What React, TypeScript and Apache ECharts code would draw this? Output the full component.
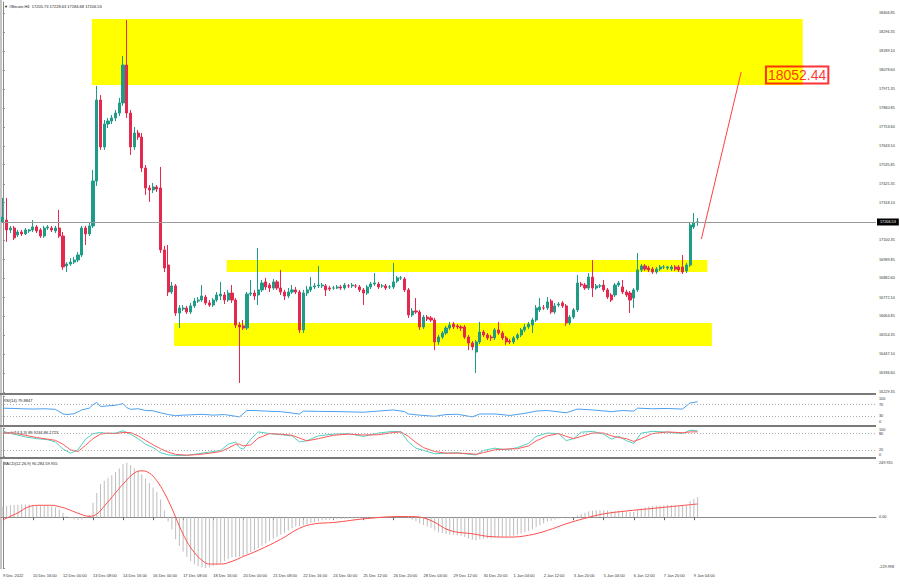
import React, { useEffect, useRef } from "react";
import * as echarts from "echarts";

// ---------- DATA ----------
const SLOT_COUNT = 233; // bar slots across the chart (incl. empty right margin)

// [open, close, low, high]
const candles: number[][] = [
  [17206, 17235, 17201, 17345], [17218, 17161, 17092, 17345], [17161, 17172, 17143, 17184], [17172, 17115, 17103, 17184],
  [17132, 17149, 17120, 17161], [17149, 17138, 17126, 17161], [17138, 17161, 17132, 17172], [17155, 17161, 17143, 17166],
  [17161, 17178, 17149, 17218], [17178, 17155, 17143, 17189], [17161, 17126, 17115, 17172], [17126, 17172, 17115, 17184],
  [17172, 17178, 17161, 17189], [17172, 17161, 17149, 17184], [17155, 17172, 17143, 17184], [17172, 17126, 17115, 17276],
  [17126, 16948, 16931, 17149], [16954, 16965, 16919, 16976], [16965, 16976, 16954, 16999], [16976, 16988, 16965, 17005],
  [16988, 17017, 16976, 17034], [17017, 17172, 17005, 17184], [17172, 17138, 17074, 17184], [17138, 17184, 17126, 17206],
  [17184, 17442, 17172, 17506], [17442, 17908, 17414, 17989], [17908, 17638, 17621, 17937], [17638, 17770, 17621, 17793],
  [17770, 17787, 17747, 17805], [17787, 17805, 17770, 17822], [17805, 17833, 17787, 17851], [17833, 17891, 17816, 17920],
  [17891, 18109, 17874, 18161], [18109, 17833, 17805, 18368], [17833, 17638, 17592, 17851], [17638, 17718, 17621, 17753],
  [17718, 17695, 17678, 17736], [17695, 17517, 17494, 17718], [17517, 17402, 17362, 17534], [17402, 17391, 17322, 17419],
  [17391, 17408, 17373, 17431], [17408, 17396, 17379, 17419], [17402, 17046, 17028, 17523], [17046, 16942, 16919, 17069],
  [16959, 16804, 16781, 17074], [16804, 16839, 16792, 16862], [16839, 16683, 16666, 16850], [16683, 16712, 16597, 16729],
  [16706, 16712, 16695, 16729], [16712, 16689, 16678, 16724], [16689, 16724, 16678, 16741], [16724, 16752, 16712, 16769],
  [16752, 16758, 16741, 16775], [16758, 16781, 16747, 16844], [16775, 16741, 16729, 16787], [16741, 16729, 16718, 16758],
  [16729, 16758, 16718, 16769], [16758, 16787, 16747, 16804], [16781, 16792, 16758, 16862], [16787, 16758, 16735, 16804],
  [16758, 16798, 16747, 16816], [16798, 16758, 16741, 16844], [16758, 16614, 16597, 16769], [16614, 16603, 16281, 16632],
  [16609, 16597, 16586, 16643], [16597, 16792, 16586, 16804], [16792, 16798, 16781, 16873], [16798, 16781, 16758, 16816],
  [16787, 16816, 16729, 17057], [16816, 16856, 16804, 16873], [16862, 16833, 16816, 16885], [16844, 16827, 16804, 16856],
  [16827, 16862, 16816, 16879], [16862, 16827, 16816, 16873], [16827, 16804, 16787, 16931], [16804, 16781, 16758, 16816],
  [16781, 16804, 16769, 16827], [16804, 16816, 16792, 16844], [16816, 16804, 16792, 16833], [16804, 16586, 16568, 16816],
  [16586, 16798, 16568, 16816], [16798, 16816, 16781, 16839], [16816, 16833, 16804, 16890], [16833, 16839, 16821, 16856],
  [16839, 16844, 16827, 16954], [16839, 16844, 16827, 16856], [16839, 16816, 16781, 16850], [16827, 16821, 16810, 16839],
  [16827, 16827, 16816, 16839], [16827, 16833, 16821, 16844], [16833, 16827, 16816, 16844], [16827, 16844, 16816, 16856],
  [16839, 16839, 16827, 16850], [16839, 16844, 16827, 16856], [16839, 16839, 16827, 16850], [16833, 16816, 16804, 16844],
  [16816, 16798, 16729, 16827], [16798, 16833, 16787, 16844], [16833, 16850, 16821, 16862], [16850, 16856, 16839, 16913],
  [16850, 16833, 16821, 16862], [16839, 16839, 16827, 16850], [16839, 16827, 16816, 16850], [16833, 16833, 16821, 16844],
  [16833, 16862, 16821, 16971], [16867, 16885, 16856, 16896], [16885, 16885, 16873, 16896], [16879, 16816, 16804, 16890],
  [16816, 16672, 16655, 16827], [16672, 16695, 16660, 16712], [16695, 16689, 16678, 16769], [16689, 16603, 16586, 16701],
  [16603, 16660, 16591, 16672], [16660, 16649, 16637, 16672], [16655, 16643, 16632, 16666], [16643, 16517, 16470, 16655],
  [16517, 16545, 16500, 16557], [16545, 16568, 16534, 16580], [16568, 16597, 16557, 16609], [16597, 16614, 16586, 16632],
  [16620, 16603, 16591, 16632], [16609, 16603, 16591, 16620], [16603, 16597, 16580, 16614], [16603, 16545, 16534, 16614],
  [16545, 16511, 16470, 16557], [16511, 16488, 16470, 16522], [16459, 16517, 16338, 16528], [16517, 16574, 16505, 16632],
  [16574, 16557, 16545, 16586], [16557, 16540, 16528, 16568], [16545, 16540, 16522, 16557], [16540, 16586, 16528, 16597],
  [16586, 16568, 16557, 16632], [16568, 16540, 16528, 16580], [16540, 16517, 16500, 16551], [16522, 16517, 16505, 16534],
  [16517, 16540, 16505, 16551], [16540, 16557, 16528, 16568], [16557, 16586, 16545, 16597], [16586, 16603, 16574, 16620],
  [16603, 16620, 16591, 16632], [16614, 16643, 16568, 16655], [16643, 16712, 16632, 16729], [16701, 16718, 16689, 16769],
  [16712, 16712, 16701, 16729], [16712, 16747, 16701, 16775], [16752, 16689, 16678, 16764], [16689, 16724, 16678, 16741],
  [16729, 16735, 16718, 16747], [16741, 16724, 16712, 16752], [16724, 16626, 16609, 16735], [16626, 16660, 16614, 16672],
  [16660, 16701, 16649, 16712], [16701, 16856, 16689, 16902], [16850, 16844, 16833, 16862], [16844, 16827, 16816, 16856],
  [16827, 16890, 16816, 16913], [16890, 16827, 16775, 16988], [16827, 16839, 16816, 16850], [16839, 16839, 16827, 16850],
  [16844, 16816, 16804, 16873], [16816, 16775, 16764, 16827], [16787, 16758, 16747, 16798], [16787, 16844, 16775, 16856],
  [16844, 16856, 16833, 16867], [16833, 16804, 16792, 16873], [16804, 16787, 16775, 16816], [16798, 16758, 16683, 16810],
  [16769, 16816, 16712, 16827], [16816, 16931, 16804, 17028], [16931, 16954, 16919, 16965], [16954, 16936, 16925, 16965],
  [16942, 16931, 16919, 16954], [16936, 16919, 16908, 16948], [16919, 16936, 16908, 16948], [16936, 16948, 16925, 16959],
  [16948, 16948, 16936, 16959], [16942, 16948, 16931, 16954], [16936, 16948, 16925, 16959], [16948, 16936, 16925, 16959],
  [16948, 16931, 16919, 16959], [16948, 16919, 16908, 17017], [16925, 16959, 16913, 16971], [16959, 17189, 16948, 17201],
  [17178, 17201, 17166, 17258], [17205.73, 17206.53, 17184.68, 17228.63],
];

const currentPrice = 17206.53;
const targetPrice = 18052.44;

const priceTicks = [
  18406.85, 18296.35, 18189.1, 18078.6, 17971.35, 17860.85, 17753.6, 17643.1, 17535.85, 17425.35,
  17318.1, 17100.35, 16989.85, 16882.6, 16772.1, 16664.85, 16554.35, 16447.1, 16336.6, 16229.35,
];
const rsiTicks = [0, 30, 70, 100];
const stochTicks = [0, 20, 80, 100];
const macdTicks = [-229.998, 0, 249.915];

const timeTickBars = [0, 8, 16, 24, 32, 40, 48, 56, 64, 72, 80, 88, 96, 104, 112, 120, 128, 136, 144, 152, 160, 168, 176, 184];
const timeTickLabels = [
  "9 Dec 2022", "10 Dec 16:00", "12 Dec 00:00", "13 Dec 08:00", "14 Dec 16:00", "16 Dec 00:00",
  "17 Dec 08:00", "18 Dec 16:00", "20 Dec 00:00", "21 Dec 08:00", "22 Dec 16:00", "24 Dec 00:00",
  "25 Dec 12:00", "26 Dec 20:00", "28 Dec 04:00", "29 Dec 12:00", "30 Dec 20:00", "1 Jan 04:00",
  "2 Jan 12:00", "3 Jan 20:00", "5 Jan 04:00", "6 Jan 12:00", "7 Jan 20:00", "9 Jan 04:00",
];

// zones: [fromBar, toBar, topPrice, bottomPrice]
const zones: number[][] = [
  [23.7, 213.0, 18374, 17994],
  [59.6, 187.6, 16988, 16919],
  [45.6, 188.8, 16626, 16494],
];
// trend line [bar, price]
const trendLine: number[][] = [[186.0, 17109], [196.6, 18069]];
const targetLabelBar = 211.5;

// RSI(14) [bar, value]
const rsi: number[][] = [
  [0, 58], [3, 57], [5, 56], [8, 55], [11, 56], [14, 54], [16, 38], [17, 36], [19, 39], [21, 52], [23, 58],
  [24, 70], [25, 78], [26, 64], [28, 66], [30, 68], [32, 74], [33, 60], [34, 54], [36, 56], [38, 50], [40, 49],
  [42, 42], [44, 36], [46, 32], [48, 34], [50, 35], [53, 37], [56, 34], [59, 36], [62, 30], [63, 28], [65, 50],
  [67, 50], [70, 48], [74, 46], [79, 38], [80, 48], [84, 47], [90, 46], [96, 44], [100, 48], [104, 52], [107, 46],
  [108, 38], [111, 34], [115, 30], [118, 36], [121, 37], [125, 28], [127, 38], [131, 38], [135, 33], [139, 40],
  [142, 48], [145, 50], [150, 42], [153, 55], [157, 52], [162, 46], [165, 50], [168, 48], [169, 58], [173, 56],
  [177, 57], [181, 55], [183, 76], [185, 79.88],
];

// Stochastic(14,3,3) main / signal [bar, value]
const stochMain: number[][] = [
  [0, 86], [3, 78], [6, 68], [9, 62], [12, 58], [14, 50], [16, 25], [18, 10], [20, 22], [22, 60], [24, 80], [26, 84],
  [28, 80], [30, 82], [32, 90], [34, 78], [36, 62], [38, 42], [40, 30], [42, 12], [44, 4], [46, 2], [49, 2], [52, 8],
  [55, 14], [58, 20], [60, 42], [62, 50], [63, 30], [64, 24], [66, 60], [68, 86], [71, 80], [74, 76], [77, 72], [79, 50],
  [81, 55], [84, 72], [88, 78], [92, 80], [96, 70], [100, 82], [104, 88], [106, 86], [108, 50], [110, 28], [112, 20],
  [115, 8], [118, 10], [121, 12], [124, 6], [126, 4], [128, 20], [131, 28], [134, 22], [137, 30], [140, 45], [142, 70],
  [145, 82], [148, 80], [150, 55], [152, 62], [154, 85], [157, 88], [160, 78], [162, 60], [164, 70], [166, 55], [168, 45],
  [170, 82], [173, 88], [177, 85], [181, 80], [183, 92], [185, 89.92],
];
const stochSignal: number[][] = [
  [0, 82], [3, 82], [6, 74], [9, 66], [12, 60], [14, 56], [16, 42], [18, 22], [20, 16], [22, 38], [24, 62], [26, 78],
  [28, 82], [30, 80], [32, 84], [34, 84], [36, 72], [38, 56], [40, 40], [42, 26], [44, 14], [46, 6], [49, 3], [52, 5],
  [55, 10], [58, 16], [60, 28], [62, 42], [63, 42], [64, 36], [66, 40], [68, 64], [71, 80], [74, 78], [77, 74], [79, 64],
  [81, 54], [84, 62], [88, 74], [92, 78], [96, 75], [100, 76], [104, 84], [106, 86], [108, 70], [110, 48], [112, 30],
  [115, 16], [118, 10], [121, 10], [124, 9], [126, 6], [128, 12], [131, 22], [134, 25], [137, 26], [140, 36], [142, 54],
  [145, 72], [148, 80], [150, 70], [152, 62], [154, 70], [157, 82], [160, 82], [162, 72], [164, 66], [166, 62], [168, 52],
  [170, 62], [173, 80], [177, 86], [181, 83], [183, 86], [185, 86.17],
];

// MACD(12,26,9) main (histogram, one per bar) and signal [bar, value]
const macdMain: number[] = [
  48, 52, 54, 55, 56, 57, 57, 57, 56, 55, 54, 53, 52, 50, 45, 35, 20, 5, -5, -10,
  -14, -10, 0, 10, 65, 110, 150, 165, 178, 190, 205, 220, 240, 246, 235, 222, 210, 195, 175, 155,
  135, 115, 80, 30, -20, -55, -100, -130, -155, -180, -200, -212, -222, -228, -230, -228, -222, -216, -208, -198,
  -190, -182, -180, -178, -176, -168, -158, -150, -140, -128, -118, -108, -98, -88, -78, -70, -60, -50, -42, -40,
  -38, -32, -26, -22, -18, -15, -13, -11, -10, -9, -8, -7, -6, -5, -4, -4, -5, -4, -3, -2,
  -1, 0, 0, 1, 2, 3, 4, 3, -5, -12, -18, -28, -35, -42, -48, -60, -68, -73, -76, -78,
  -80, -82, -84, -90, -96, -102, -104, -100, -98, -97, -96, -92, -89, -88, -88, -87, -84, -80, -74, -68,
  -62, -55, -45, -36, -28, -20, -16, -11, -7, -4, -6, -5, -2, 8, 15, 20, 27, 29, 31, 32,
  32, 30, 27, 28, 30, 29, 27, 24, 24, 32, 40, 45, 48, 50, 52, 53, 54, 55, 55, 54,
  53, 52, 52, 72, 84, 90.284,
];
const macdSignal: number[][] = [
  [0, -12], [4, 20], [7, 48], [10, 54], [13, 54], [15, 48], [17, 38], [20, 18], [23, 4], [25, 14], [27, 50],
  [30, 110], [32, 150], [35, 200], [37, 210], [39, 200], [41, 165], [43, 110], [45, 40], [47, -40], [49, -110],
  [51, -160], [53, -195], [55, -212], [58, -212], [61, -200], [64, -178], [68, -150], [74, -100], [79, -50],
  [83, -30], [88, -24], [97, -6], [106, 3], [110, 2], [114, -15], [119, -60], [125, -75], [130, -88], [135, -90],
  [140, -82], [145, -60], [150, -30], [155, -5], [160, 15], [166, 28], [172, 38], [178, 48], [185, 59.955],
];

const headerText = "▼ #Bitcoin,H4  17205.73 17228.63 17184.68 17206.53";
const rsiTitle = "RSI(14) 79.8847";
const stochTitle = "Stoch(14,3,3) 89.9244 86.1723";
const macdTitle = "MACD(12,26,9) 90.284 59.955";

// ---------- CHART ----------
const FONT = "Liberation Sans";
const UP = "#1e9c88";
const DOWN = "#e5284e";
const AX = "#8a8a8a";
const LBL = "#333";
const FSY = 3.8;
const FSX = 4;

export default function App() {
  const ref = useRef<HTMLDivElement>(null);
  useEffect(() => {
    if (!ref.current) return;
    const chart = echarts.init(ref.current, null, { renderer: "svg" });
    const slots = Array.from({ length: SLOT_COUNT }, (_, i) => String(i));
    const tickSet = new Set(timeTickBars);
    const tickLabelAt = (i: number) => timeTickLabels[timeTickBars.indexOf(i)] ?? "";
    const GL = 1, GW = 875;
    const grids = [
      { left: GL, width: GW, top: 2, height: 392 },
      { left: GL, width: GW, top: 396, height: 29 },
      { left: GL, width: GW, top: 428, height: 28 },
      { left: GL, width: GW, top: 462, height: 106 },
    ].map((g) => ({ ...g, show: false, containLabel: false, outerBoundsMode: "none" }));

    const hiddenVal = (gridIndex: number) => ({
      type: "value", gridIndex, min: -0.5, max: SLOT_COUNT - 0.5, show: false,
    });
    // shift: px to move the label's text (positive = down) to keep stacked panel labels apart
    const rightAxis = (
      gridIndex: number, min: number, max: number, vals: number[],
      fmt: (v: number) => string, shiftTop = 0, shiftBottom = 0,
    ) => ({
      type: "value", gridIndex, position: "right", min, max, scale: true,
      axisLine: { show: true, lineStyle: { color: AX, width: 1 } },
      axisTick: { show: true, length: 2, customValues: vals, lineStyle: { color: AX } },
      axisLabel: {
        show: true, customValues: vals, fontSize: FSY, color: LBL, margin: 3, fontFamily: FONT,
        formatter: (v: number) => {
          const t = fmt(v);
          if (v === max && shiftTop) return `{d|${t}}`;
          if (v === min && shiftBottom) return `{u|${t}}`;
          return t;
        },
        rich: {
          d: { fontSize: FSY, color: LBL, fontFamily: FONT, padding: [shiftTop * 2, 0, 0, 0] },
          u: { fontSize: FSY, color: LBL, fontFamily: FONT, padding: [0, 0, shiftBottom * 2, 0] },
        },
      },
      splitLine: { show: false },
    });

    const option: any = {
      animation: false,
      backgroundColor: "#ffffff",
      textStyle: { fontFamily: FONT },
      grid: grids,
      xAxis: [
        { type: "category", gridIndex: 0, data: slots, show: false, boundaryGap: true },
        hiddenVal(0),
        hiddenVal(1),
        hiddenVal(2),
        {
          type: "category", gridIndex: 3, data: slots, boundaryGap: true,
          axisLine: { show: true, lineStyle: { color: AX } },
          axisTick: { show: true, interval: (i: number) => tickSet.has(i), alignWithLabel: true, length: 3, lineStyle: { color: "#666" } },
          axisLabel: {
            show: true, interval: (i: number) => tickSet.has(i), formatter: (_v: string, i: number) => tickLabelAt(i),
            fontSize: FSX, color: LBL, align: "left", margin: 5, fontFamily: FONT, hideOverlap: false,
          },
          splitLine: { show: false },
        },
        hiddenVal(3),
      ],
      yAxis: [
        rightAxis(0, 16217.5, 18471.5, priceTicks, (v) => v.toFixed(2)),
        rightAxis(1, 0, 100, rsiTicks, (v) => String(Math.round(v)), 3, 3.5),
        rightAxis(2, 0, 100, stochTicks, (v) => String(Math.round(v)), 1.5, 1.5),
        rightAxis(3, -229.998, 249.915, macdTicks, (v) => (v === 0 ? "0.00" : v.toFixed(3)), 1, 1),
      ],
      series: [
        {
          type: "line", xAxisIndex: 1, yAxisIndex: 0, data: [], z: 1, silent: true,
          markArea: {
            silent: true,
            itemStyle: { color: "#ffff00", opacity: 1 },
            data: zones.map((z) => [{ coord: [z[0], z[2]] }, { coord: [z[1], z[3]] }]),
          },
        },
        {
          type: "candlestick", xAxisIndex: 0, yAxisIndex: 0, data: candles, z: 3, barWidth: 2.6,
          itemStyle: { color: UP, color0: DOWN, borderColor: UP, borderColor0: DOWN, borderWidth: 1 },
          markLine: {
            silent: true, symbol: ["none", "none"],
            lineStyle: { color: "#9a9a9a", width: 1, type: "solid" },
            label: {
              show: true, position: "end", formatter: currentPrice.toFixed(2), color: "#fff",
              backgroundColor: "#000", fontSize: FSY, padding: [1.5, 3], distance: 1, fontFamily: FONT,
            },
            data: [{ yAxis: currentPrice }],
          },
        },
        {
          type: "line", xAxisIndex: 1, yAxisIndex: 0, data: trendLine, symbol: "none", z: 4,
          lineStyle: { color: "#ff4040", width: 1 },
        },
        {
          type: "scatter", xAxisIndex: 1, yAxisIndex: 0, data: [[targetLabelBar, targetPrice]], symbolSize: 0, z: 5,
          label: {
            show: true, position: "inside", formatter: targetPrice.toFixed(2), color: "#ff0000", fontSize: 14,
            fontFamily: FONT, borderColor: "#ff0000", borderWidth: 1, padding: [2, 2, 1, 2], backgroundColor: "transparent",
          },
        },
        {
          type: "line", xAxisIndex: 2, yAxisIndex: 1, data: rsi, symbol: "none",
          lineStyle: { color: "#4aa0ee", width: 1 },
          markLine: {
            silent: true, symbol: ["none", "none"], label: { show: false },
            lineStyle: { color: "#b0b0b0", width: 1, type: [1, 2] },
            data: [{ yAxis: 30 }, { yAxis: 70 }],
          },
        },
        {
          type: "line", xAxisIndex: 3, yAxisIndex: 2, data: stochMain, symbol: "none",
          lineStyle: { color: "#52cfc2", width: 1 },
          markLine: {
            silent: true, symbol: ["none", "none"], label: { show: false },
            lineStyle: { color: "#b0b0b0", width: 1, type: [1, 2] },
            data: [{ yAxis: 20 }, { yAxis: 80 }],
          },
        },
        {
          type: "line", xAxisIndex: 3, yAxisIndex: 2, data: stochSignal, symbol: "none",
          lineStyle: { color: "#ff5a5a", width: 1 },
        },
        {
          type: "bar", xAxisIndex: 4, yAxisIndex: 3, data: macdMain, barWidth: 1,
          itemStyle: { color: "#bdbdbd" },
        },
        {
          type: "line", xAxisIndex: 5, yAxisIndex: 3, data: macdSignal, symbol: "none", smooth: 0.4,
          lineStyle: { color: "#ff4d4d", width: 1 },
        },
      ],
      graphic: [
        { type: "line", shape: { x1: 1, y1: 0, x2: 1, y2: 569 }, style: { stroke: AX, lineWidth: 1 }, silent: true },
        { type: "rect", shape: { x: 0, y: 393, width: 876, height: 2 }, style: { fill: "#7a7a7a" }, silent: true },
        { type: "rect", shape: { x: 0, y: 425, width: 876, height: 2 }, style: { fill: "#7a7a7a" }, silent: true },
        { type: "rect", shape: { x: 0, y: 457, width: 876, height: 2 }, style: { fill: "#7a7a7a" }, silent: true },
        { type: "text", x: 4, y: 4, style: { text: headerText, fontSize: 4, fill: "#222", fontFamily: FONT } },
        { type: "text", x: 3, y: 398, style: { text: rsiTitle, fontSize: 4, fill: "#222", fontFamily: FONT } },
        { type: "text", x: 3, y: 430, style: { text: stochTitle, fontSize: 4, fill: "#222", fontFamily: FONT } },
        { type: "text", x: 3, y: 461, style: { text: macdTitle, fontSize: 4, fill: "#222", fontFamily: FONT } },
      ],
    };
    chart.setOption(option);
    return () => chart.dispose();
  }, []);
  return <div ref={ref} style={{ width: 900, height: 585, position: "absolute", left: 0, top: 0 }} />;
}
